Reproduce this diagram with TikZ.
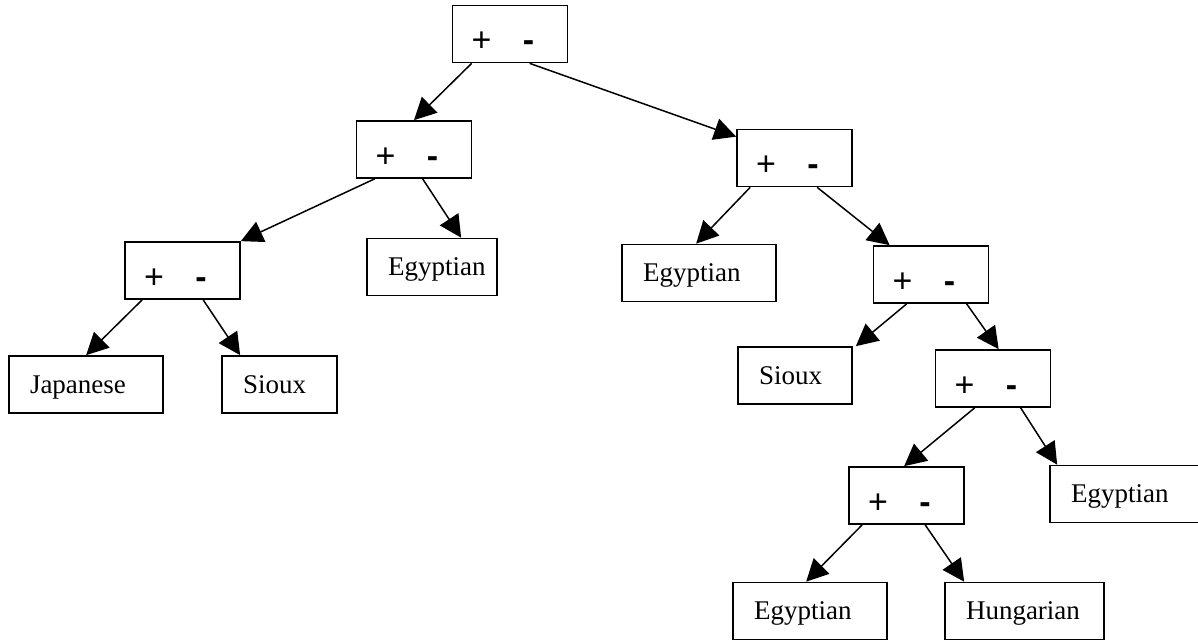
\documentclass[tikz,border=0pt]{standalone}
\usepackage{fontspec}
\setmainfont{Liberation Serif}
\setsansfont{Liberation Sans}
\usepackage{tikz}
\usetikzlibrary{arrows.meta,calc}
\hyphenpenalty=10000
\newcommand{\splitlabel}{+\hspace{15.7pt}{\bfseries -}\rule{7.1pt}{0pt}}

\begin{document}
\begin{tikzpicture}[x=0.5pt,y=-0.5pt,
  split/.style={draw,line width=0.85pt,rectangle,minimum width=57.5pt,minimum height=28.5pt,
    inner sep=0pt,text height=17.6pt,text depth=0pt,font=\sffamily\fontsize{17}{20}\selectfont},
  leaf/.style={draw,line width=0.85pt,rectangle,minimum height=28.5pt,inner xsep=10.5pt,
    inner ysep=0pt,align=left,text width=#1,text height=10pt,text depth=1.5pt,
    font=\fontsize{13.5}{16}\selectfont},
  link/.style={line width=0.75pt,-{Triangle[length=11pt,width=11pt]}}]
\useasboundingbox (0,0) rectangle (1198,643);
\node[split] (root) at (510,34) {\splitlabel};
\node[split] (n1) at (414,149.5) {\splitlabel};
\node[split] (n2) at (794.5,158) {\splitlabel};
\node[split] (n3) at (182.5,270.5) {\splitlabel};
\node[split] (n4) at (931,274.5) {\splitlabel};
\node[split] (n5) at (993,378.5) {\splitlabel};
\node[split] (n6) at (906.5,495.5) {\splitlabel};
\node[leaf=56pt] (japanese) at (86,384.5) {Japanese};
\node[leaf=36.5pt] (siouxA) at (279.5,384.5) {Sioux};
\node[leaf=44pt] (egyptianA) at (432,267) {Egyptian};
\node[leaf=56pt] (egyptianB) at (699,273) {Egyptian};
\node[leaf=36pt] (siouxB) at (795,375.5) {Sioux};
\node[leaf=56pt] (egyptianC) at (1127,494) {Egyptian};
\node[leaf=56pt] (egyptianD) at (810,611) {Egyptian};
\node[leaf=58.5pt] (hungarian) at (1024.5,611) {Hungarian};
\draw[link] ($(root.south west)+(20,0)$) -- (n1.north);
\draw[link] ($(root.south west)+(78,0)$) -- ($(n2.north west)+(0,8)$);
\draw[link] ($(n1.south west)+(19,0)$) -- (n3.north east);
\draw[link] ($(n1.south west)+(67,0)$) -- ($(egyptianA.north west)+(95,0)$);
\draw[link] ($(n2.south west)+(14,0)$) -- ($(egyptianB.north west)+(75,0)$);
\draw[link] ($(n2.south west)+(81,0)$) -- ($(n4.north west)+(17,0)$);
\draw[link] ($(n3.south west)+(18,0)$) -- ($(japanese.north west)+(78,0)$);
\draw[link] ($(n3.south west)+(79,0)$) -- ($(siouxA.north west)+(19,0)$);
\draw[link] ($(n4.south west)+(34,0)$) -- ($(siouxB.north east)+(3,0)$);
\draw[link] ($(n4.south west)+(94,0)$) -- ($(n5.north west)+(64,0)$);
\draw[link] ($(n5.south west)+(40,0)$) -- ($(n6.north west)+(56,0)$);
\draw[link] ($(n5.south west)+(86,0)$) -- ($(egyptianC.north west)+(8,0)$);
\draw[link] ($(n6.south west)+(14,0)$) -- ($(egyptianD.north west)+(74,0)$);
\draw[link] ($(n6.south west)+(77,0)$) -- ($(hungarian.north west)+(20,0)$);
\end{tikzpicture}
\end{document}
